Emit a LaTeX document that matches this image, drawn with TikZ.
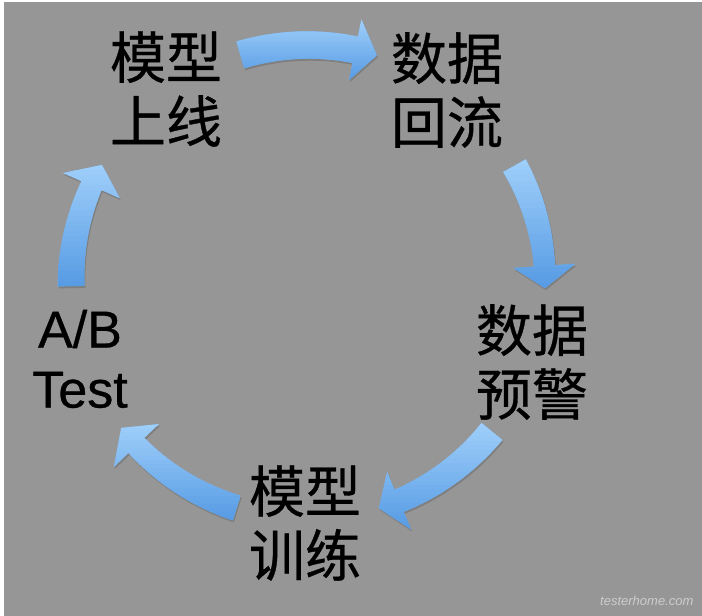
\documentclass[tikz,border=0pt]{standalone}
\usepackage{fontspec}
\setmainfont{Liberation Sans}[FakeBold=0.6]
\newfontfamily\cjk{Noto Sans CJK SC}[FakeBold=0.6]
\usetikzlibrary{shadows,calc}
\definecolor{bggray}{RGB}{150,150,150}
\definecolor{arrowlight}{RGB}{158,206,250}
\definecolor{arrowmid}{RGB}{118,178,238}
\definecolor{arrowdark}{RGB}{88,156,228}
\definecolor{wmark}{RGB}{205,205,205}
\tikzset{
  cycarrow/.style={
    drop shadow={shadow xshift=1pt, shadow yshift=-2pt, opacity=0.3, fill=black!70},
    fill=arrowmid, draw=none,
    path picture={
      \foreach \i in {0,...,23}{
        \pgfmathsetmacro\p{100*\i/23}
        \fill[arrowdark!\p!arrowlight]
          ($(path picture bounding box.north west)!{\i/24}!(path picture bounding box.south west)$)
          rectangle
          ($(path picture bounding box.north east)!{(\i+1.1)/24}!(path picture bounding box.south east)$);
      }}},
  cjklabel/.style={font=\cjk\fontsize{56}{64}\selectfont, align=center, inner sep=0pt, text=black},
  latlabel/.style={font=\fontsize{52}{60}\selectfont, align=center, inner sep=0pt, text=black},
  watermark/.style={font=\fontspec{Liberation Sans}\fontsize{13}{13}\selectfont\itshape, text=wmark, inner sep=0pt}
}
% #1 start angle, #2 head-base angle, #3 tip angle, #4 tail width, #5 width at head
\newcommand{\cyclearrow}[5]{%
  \path[cycarrow]
    plot[domain=#1:#2,samples=30] ({(237+((#4)+((#5)-(#4))*(\x-(#1))/((#2)-(#1)))/2)*cos(\x)},{(237+((#4)+((#5)-(#4))*(\x-(#1))/((#2)-(#1)))/2)*sin(\x)})
    -- ({268*cos(#2)},{268*sin(#2)})
    -- ({237*cos(#3)},{237*sin(#3)})
    -- ({206*cos(#2)},{206*sin(#2)})
    -- plot[domain=#2:#1,samples=30] ({(237-((#4)+((#5)-(#4))*(\x-(#1))/((#2)-(#1)))/2)*cos(\x)},{(237-((#4)+((#5)-(#4))*(\x-(#1))/((#2)-(#1)))/2)*sin(\x)})
    -- cycle;}
\begin{document}
\begin{tikzpicture}[x=1pt,y=-1pt]
\useasboundingbox (0,0) rectangle (702,616);
\fill[white] (0,0) rectangle (702,616);
\fill[bggray] (4,2) rectangle (702,616);
\coordinate (ctr) at (308,282);
\begin{scope}[shift={(ctr)}]
  \cyclearrow{-106.6}{-78.5}{-73.1}{28}{27}
  \cyclearrow{-29.4}{-3.9}{1.5}{26}{21}
  \cyclearrow{39.1}{67.4}{72.6}{27}{24}
  \cyclearrow{107.5}{136.4}{142.0}{26}{22}
  \cyclearrow{179.0}{204.0}{209.6}{27}{22}
\end{scope}
\node[cjklabel] (deploy) at (166,89) {模型\\上线};
\node[cjklabel] (backflow) at (447,90) {数据\\回流};
\node[cjklabel] (alert) at (532,362) {数据\\预警};
\node[cjklabel] (train) at (305,523) {模型\\训练};
\node[latlabel] (abtest) at (80,359) {A/B\\Test};
\node[watermark, anchor=base west] (wm) at (600,605) {testerhome.com};
\end{tikzpicture}
\end{document}
